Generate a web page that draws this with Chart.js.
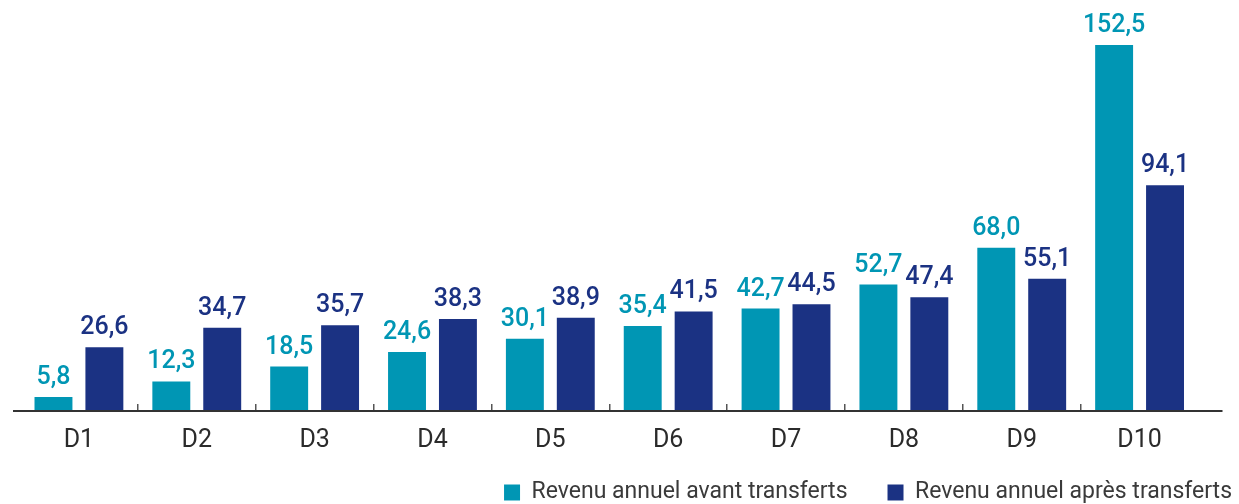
<!DOCTYPE html>
<html>
<head>
<meta charset="utf-8">
<script src="https://cdn.jsdelivr.net/npm/chart.js@4/dist/chart.umd.min.js"></script>
<style>
  html, body { margin: 0; padding: 0; background: #ffffff; }
  #wrap { width: 1239px; height: 504px; position: relative; }
</style>
</head>
<body>
<div id="wrap"><canvas id="c" width="1239" height="504"></canvas></div>
<script>
const categories = ['D1', 'D2', 'D3', 'D4', 'D5', 'D6', 'D7', 'D8', 'D9', 'D10'];
const seriesNames = ['Revenu annuel avant transferts', 'Revenu annuel après transferts'];
const avantTransferts = [5.8, 12.3, 18.5, 24.6, 30.1, 35.4, 42.7, 52.7, 68.0, 152.5];
const apresTransferts = [26.6, 34.7, 35.7, 38.3, 38.9, 41.5, 44.5, 47.4, 55.1, 94.1];

const TEAL = '#0096b4';
const NAVY = '#1b3283';
const FONT = 'Roboto, "Noto Sans", sans-serif';

const valueLabels = {
  id: 'valueLabels',
  afterDatasetsDraw(chart) {
    const ctx = chart.ctx;
    ctx.save();
    ctx.font = '500 25px ' + FONT;
    ctx.textAlign = 'center';
    ctx.textBaseline = 'alphabetic';
    chart.data.datasets.forEach((ds, di) => {
      const meta = chart.getDatasetMeta(di);
      ctx.fillStyle = ds.backgroundColor;
      meta.data.forEach((bar, i) => {
        const txt = ds.data[i].toFixed(1).replace('.', ',');
        ctx.fillText(txt, bar.x, bar.y - 13);
      });
    });
    ctx.restore();
  }
};

const baseLine = {
  id: 'baseLine',
  afterDatasetsDraw(chart) {
    const {ctx, chartArea} = chart;
    ctx.save();
    ctx.strokeStyle = '#333333';
    ctx.lineWidth = 2;
    ctx.beginPath();
    ctx.moveTo(chartArea.left - 7, chartArea.bottom);
    ctx.lineTo(chartArea.right + 24, chartArea.bottom);
    ctx.stroke();
    ctx.restore();
  }
};

new Chart(document.getElementById('c'), {
  type: 'bar',
  data: {
    labels: categories,
    datasets: [
      { label: seriesNames[0], data: avantTransferts, backgroundColor: TEAL, borderWidth: 0 },
      { label: seriesNames[1], data: apresTransferts, backgroundColor: NAVY, borderWidth: 0 }
    ]
  },
  options: {
    responsive: false,
    animation: false,
    devicePixelRatio: 1,
    categoryPercentage: 0.864,
    barPercentage: 0.745,
    layout: { padding: { top: 3, left: 20, right: -33, bottom: -10 } },
    plugins: {
      tooltip: { enabled: false },
      legend: {
        position: 'bottom',
        align: 'end',
        labels: {
          boxWidth: 16,
          boxHeight: 16,
          padding: 40,
          color: '#3a3a3a',
          font: { family: FONT, size: 23, weight: '400' }
        }
      }
    },
    scales: {
      x: {
        offset: true,
        border: { display: false },
        grid: {
          offset: true,
          drawOnChartArea: false,
          drawTicks: true,
          tickLength: -7,
          lineWidth: 1.5,
          color: (c) => (c.index > 0 && c.index < categories.length) ? '#555555' : 'rgba(0,0,0,0)'
        },
        ticks: {
          mirror: true,
          padding: -44.5,
          color: '#2b2b2b',
          font: { family: FONT, size: 25, weight: '400' }
        },
        afterFit: (s) => { s.height = 30; }
      },
      y: {
        display: false,
        min: 0,
        max: 170
      },
      yRight: {
        position: 'right',
        display: true,
        min: 0,
        max: 170,
        grid: { display: false },
        border: { display: false },
        ticks: { display: false },
        afterFit: (s) => { s.width = 73.5; }
      }
    }
  },
  plugins: [valueLabels, baseLine]
});
</script>
</body>
</html>
